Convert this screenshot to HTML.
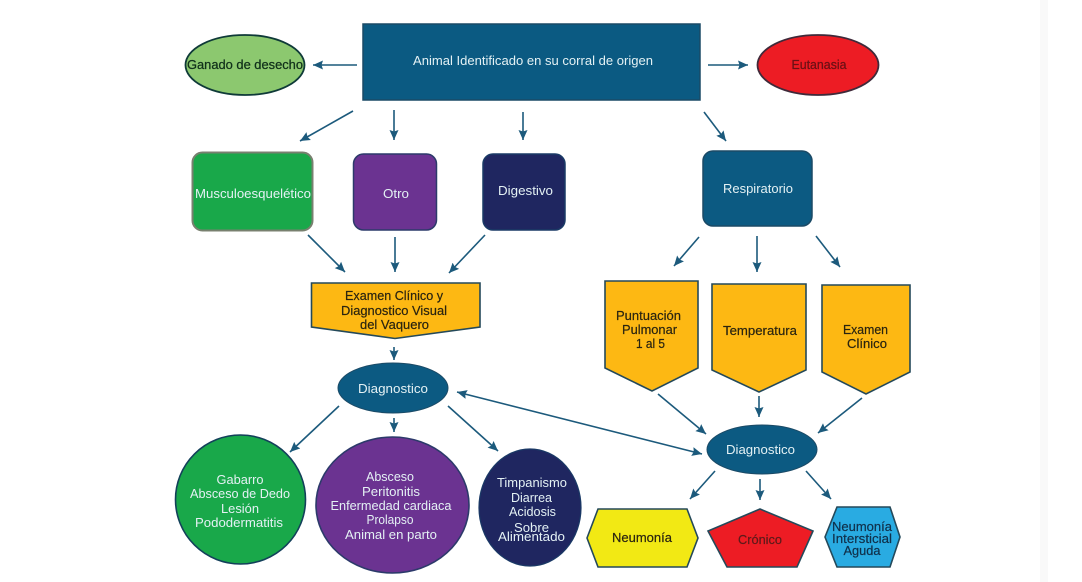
<!DOCTYPE html>
<html lang="es"><head><meta charset="utf-8"><title>Diagrama</title>
<style>
html,body{margin:0;padding:0;background:#fff}
svg{display:block}
text{font-family:"Liberation Sans",sans-serif;font-size:13px;text-anchor:middle}
.w{fill:#e4f1f4}.k{fill:#2a2410;stroke:#2a2410;stroke-width:.2}
line.a{stroke:#1c5a7c;stroke-width:1.6;marker-end:url(#h)}
</style></head><body>
<svg width="1082" height="582" viewBox="0 0 1082 582" xmlns="http://www.w3.org/2000/svg">
<defs><marker id="h" markerUnits="userSpaceOnUse" markerWidth="12" markerHeight="10" refX="10" refY="5" orient="auto-start-reverse"><path d="M0 .5L10 5L0 9.500L1.500 5Z" fill="#1c5a7c"/></marker></defs>
<rect width="1082" height="582" fill="#fff"/>
<rect x="1040" y="0" width="8" height="582" fill="#f9f9f9"/>

<rect x="363" y="24" width="337" height="76" fill="#0b5a82" stroke="#1b4a66" stroke-width="1.5"/>
<ellipse cx="245" cy="65" rx="59.5" ry="30" fill="#8cc86f" stroke="#0f3a38" stroke-width="1.8"/>
<ellipse cx="818" cy="65" rx="60.5" ry="30" fill="#ed1c24" stroke="#3f2a3a" stroke-width="1.8"/>
<rect x="192.500" y="152.500" width="120" height="78" rx="10" fill="#19a84a" stroke="#78806f" stroke-width="2"/>
<rect x="353.500" y="154" width="83" height="76" rx="10" fill="#6b3391" stroke="#2c3a6a" stroke-width="1.5"/>
<rect x="483" y="154" width="82" height="76" rx="10" fill="#1f2660" stroke="#1a3a66" stroke-width="1.5"/>
<rect x="703" y="151" width="109" height="75" rx="10" fill="#0c5a82" stroke="#1b4a66" stroke-width="1.5"/>

<polygon points="311.500,283 480,283 480,327 395,338.500 311.500,327" fill="#fdb813" stroke="#24495a" stroke-width="1.6"/>
<polygon points="605,281 698,281 698,368 652,391 605,368" fill="#fdb813" stroke="#24495a" stroke-width="1.6"/>
<polygon points="712,284 806,284 806,370 759,392 712,370" fill="#fdb813" stroke="#24495a" stroke-width="1.6"/>
<polygon points="822,285 910,285 910,372 866,394 822,372" fill="#fdb813" stroke="#24495a" stroke-width="1.6"/>

<ellipse cx="393" cy="388" rx="55" ry="25" fill="#0c5a82" stroke="#1b4a66"/>
<ellipse cx="762" cy="449.500" rx="55" ry="24.500" fill="#0c5a82" stroke="#1b4a66"/>
<ellipse cx="240.500" cy="499.500" rx="65" ry="64.500" fill="#19a84a" stroke="#13405a" stroke-width="1.6"/>
<ellipse cx="392.500" cy="505" rx="76.500" ry="68" fill="#6b3391" stroke="#2c3a6a" stroke-width="1.6"/>
<ellipse cx="530" cy="507.500" rx="51" ry="58.500" fill="#1f2660" stroke="#1a3a66" stroke-width="1.2"/>

<polygon points="587,538 598,509 687,509 698,538 687,567 598,567" fill="#f2e914" stroke="#24495a" stroke-width="1.6"/>
<polygon points="760,509 813,531 797,567 727,567 708,531" fill="#ed1c24" stroke="#24495a" stroke-width="1.6"/>
<polygon points="825,537 837,507 890,507 900,537 890,567 837,567" fill="#29abe2" stroke="#24495a" stroke-width="1.6"/>

<line class="a" x1="357" y1="65" x2="313" y2="65"/>
<line class="a" x1="708" y1="65" x2="748" y2="65"/>
<line class="a" x1="353" y1="111" x2="300" y2="141"/>
<line class="a" x1="394" y1="110" x2="394" y2="140"/>
<line class="a" x1="523" y1="112" x2="523" y2="140"/>
<line class="a" x1="704" y1="112" x2="726" y2="141"/>
<line class="a" x1="308" y1="235" x2="345" y2="272"/>
<line class="a" x1="395" y1="237" x2="395" y2="272"/>
<line class="a" x1="485" y1="235" x2="449" y2="273"/>
<line class="a" x1="699" y1="237" x2="674" y2="266"/>
<line class="a" x1="757" y1="236" x2="757" y2="272"/>
<line class="a" x1="816" y1="236" x2="840" y2="267"/>
<line class="a" x1="394" y1="347" x2="394" y2="360"/>
<line class="a" x1="339" y1="406" x2="290" y2="452"/>
<line class="a" x1="394" y1="418" x2="394" y2="432"/>
<line class="a" x1="448" y1="406" x2="498" y2="451"/>
<line class="a" x1="457" y1="392" x2="702" y2="454" style="marker-start:url(#h)"/>
<line class="a" x1="658" y1="394" x2="706" y2="434"/>
<line class="a" x1="759" y1="396" x2="759" y2="417"/>
<line class="a" x1="862" y1="398" x2="818" y2="433"/>
<line class="a" x1="715" y1="471" x2="690" y2="499"/>
<line class="a" x1="760" y1="479" x2="760" y2="500"/>
<line class="a" x1="806" y1="471" x2="831" y2="499"/>

<text class="w" x="533" y="65" textLength="240" lengthAdjust="spacingAndGlyphs">Animal Identificado en su corral de origen</text>
<text x="245" y="69" textLength="116" lengthAdjust="spacingAndGlyphs" fill="#10301a" stroke="#10301a" stroke-width=".25">Ganado de desecho</text>
<text x="819" y="69" textLength="55" lengthAdjust="spacingAndGlyphs" fill="#6b1015" stroke="#6b1015" stroke-width=".25">Eutanasia</text>
<text class="w" x="253" y="198" textLength="116" lengthAdjust="spacingAndGlyphs">Musculoesquelético</text>
<text class="w" x="396" y="198" textLength="26" lengthAdjust="spacingAndGlyphs">Otro</text>
<text class="w" x="525.500" y="195" textLength="55" lengthAdjust="spacingAndGlyphs">Digestivo</text>
<text class="w" x="758" y="193" textLength="70" lengthAdjust="spacingAndGlyphs">Respiratorio</text>

<text class="k" x="394" y="300" textLength="98" lengthAdjust="spacingAndGlyphs">Examen Clínico y</text>
<text class="k" x="394" y="315" textLength="106" lengthAdjust="spacingAndGlyphs">Diagnostico Visual</text>
<text class="k" x="394.500" y="329" textLength="69" lengthAdjust="spacingAndGlyphs">del Vaquero</text>

<text class="w" x="393" y="393" textLength="70" lengthAdjust="spacingAndGlyphs">Diagnostico</text>
<text class="w" x="760.500" y="454" textLength="69" lengthAdjust="spacingAndGlyphs">Diagnostico</text>

<text class="w" x="240" y="484" textLength="47" lengthAdjust="spacingAndGlyphs">Gabarro</text>
<text class="w" x="240" y="498" textLength="100" lengthAdjust="spacingAndGlyphs">Absceso de Dedo</text>
<text class="w" x="240" y="513" textLength="38" lengthAdjust="spacingAndGlyphs">Lesión</text>
<text class="w" x="239" y="527" textLength="88" lengthAdjust="spacingAndGlyphs">Pododermatitis</text>

<text class="w" x="390" y="481" textLength="48" lengthAdjust="spacingAndGlyphs">Absceso</text>
<text class="w" x="391" y="496" textLength="58" lengthAdjust="spacingAndGlyphs">Peritonitis</text>
<text class="w" x="391" y="510" textLength="121" lengthAdjust="spacingAndGlyphs">Enfermedad cardiaca</text>
<text class="w" x="390" y="524" textLength="47" lengthAdjust="spacingAndGlyphs">Prolapso</text>
<text class="w" x="391" y="539" textLength="92" lengthAdjust="spacingAndGlyphs">Animal en parto</text>

<text class="w" x="532" y="487" textLength="70" lengthAdjust="spacingAndGlyphs">Timpanismo</text>
<text class="w" x="531.500" y="502" textLength="41" lengthAdjust="spacingAndGlyphs">Diarrea</text>
<text class="w" x="532.500" y="516" textLength="47" lengthAdjust="spacingAndGlyphs">Acidosis</text>
<text class="w" x="531.500" y="532" textLength="35" lengthAdjust="spacingAndGlyphs">Sobre</text>
<text class="w" x="531.500" y="541" textLength="67" lengthAdjust="spacingAndGlyphs">Alimentado</text>

<text class="k" x="648.500" y="320" textLength="65" lengthAdjust="spacingAndGlyphs">Puntuación</text>
<text class="k" x="649.500" y="334" textLength="55" lengthAdjust="spacingAndGlyphs">Pulmonar</text>
<text class="k" x="650.500" y="348" textLength="29" lengthAdjust="spacingAndGlyphs">1 al 5</text>
<text class="k" x="760" y="335" textLength="74" lengthAdjust="spacingAndGlyphs">Temperatura</text>
<text class="k" x="865.500" y="334" textLength="45" lengthAdjust="spacingAndGlyphs">Examen</text>
<text class="k" x="867" y="348" textLength="40" lengthAdjust="spacingAndGlyphs">Clínico</text>

<text class="k" x="642" y="542" textLength="60" lengthAdjust="spacingAndGlyphs">Neumonía</text>
<text x="760" y="544" textLength="44" lengthAdjust="spacingAndGlyphs" fill="#5c1a1a" stroke="#5c1a1a" stroke-width=".2">Crónico</text>
<text x="862" y="531" textLength="60" lengthAdjust="spacingAndGlyphs" fill="#10304a" stroke="#10304a" stroke-width=".2">Neumonía</text>
<text x="862" y="543" textLength="60" lengthAdjust="spacingAndGlyphs" fill="#10304a" stroke="#10304a" stroke-width=".2">Intersticial</text>
<text x="862" y="555" textLength="37" lengthAdjust="spacingAndGlyphs" fill="#10304a" stroke="#10304a" stroke-width=".2">Aguda</text>
</svg>
</body></html>
